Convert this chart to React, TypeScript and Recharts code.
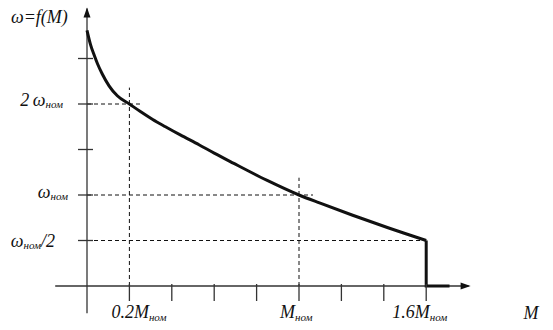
import React from "react";
import { LineChart, Line, XAxis, YAxis, ReferenceLine, ReferenceDot } from "recharts";

// Characteristic ω = f(M): torque M (in units of M_ном), speed ω (in units of ω_ном)
const curveM = [0, 0.017, 0.035, 0.05, 0.072, 0.104, 0.143, 0.2, 0.25, 0.31, 0.37, 0.44, 0.53, 0.6, 0.69, 0.85, 1.0, 1.1, 1.25, 1.42, 1.6];
const curveW = [2.81, 2.65, 2.53, 2.44, 2.33, 2.2, 2.09, 2.0, 1.92, 1.83, 1.75, 1.66, 1.55, 1.46, 1.35, 1.16, 1.0, 0.91, 0.78, 0.64, 0.5];
const dropM = [1.6, 1.6, 1.71];
const dropW = [0.5, 0, 0];

const xTicks = [0.2, 0.4, 0.6, 0.8, 1.0, 1.2, 1.4, 1.6];
const xTickMain = ["0.2M", "", "", "", "M", "", "", "1.6M"];
const xTickSub = ["ном", "", "", "", "ном", "", "", "ном"];

const yTicks = [0.5, 1.0, 1.5, 2.0, 2.5];
const yTickMain = ["ω", "ω", "", "2\u2009ω", ""];
const yTickSub = ["ном", "ном", "", "ном", ""];
const yTickSuffix = ["/2", "", "", "", ""];

// dashed guide lines, start and end points in data units
const guideFrom = [
  [0, 2.0], [0, 1.0], [0, 0.5], [0.2, 0], [1.0, 0],
];
const guideTo = [
  [0.264, 2.0], [1.066, 1.0], [1.6, 0.5], [0.2, 2.18], [1.0, 1.19],
];

const xDomain = [-0.15, 1.8];
const yDomain = [-0.3, 3.05];
const yTitle = "ω=f(M)";
const xTitle = "M";

const curveData = curveM.map((m, i) => ({ m, w: curveW[i] }));
const dropData = dropM.map((m, i) => ({ m, w: dropW[i] }));

const TXT: React.CSSProperties = { fontFamily: "Liberation Serif, serif", fontStyle: "italic" };
const INK = "#111";
const AXIS = "#333";

const xLabelDx = [-18, 0, 0, 0, -19, 0, 0, -34];
const yLabelDx = [-32, -19, 0, -24, 0];
const yLabelDy = [6, 3, 0, 2, 0];

function XTickShape(i: number) {
  return (props: any) => {
    const { cx, cy } = props;
    return (
      <g>
        <line x1={cx} x2={cx} y1={cy - 2} y2={cy + 15} stroke={AXIS} strokeWidth={1.3} />
        {xTickMain[i] ? (
          <text x={cx + xLabelDx[i]} y={cy + 32} style={TXT} fontSize={18} fill={INK}>
            <tspan>{xTickMain[i]}</tspan>
            <tspan fontSize={11} dy={3}>{xTickSub[i]}</tspan>
          </text>
        ) : null}
      </g>
    );
  };
}

function YTickShape(i: number) {
  return (props: any) => {
    const { cx, cy } = props;
    return (
      <g>
        <line x1={cx - 9} x2={cx + 6} y1={cy} y2={cy} stroke={AXIS} strokeWidth={1.3} />
        {yTickMain[i] ? (
          <text x={cx + yLabelDx[i]} y={cy + yLabelDy[i]} textAnchor="end" style={TXT} fontSize={18} fill={INK}>
            <tspan>{yTickMain[i]}</tspan>
            <tspan fontSize={11} dy={2}>{yTickSub[i]}</tspan>
            {yTickSuffix[i] ? <tspan fontSize={18} dy={-2}>{yTickSuffix[i]}</tspan> : null}
          </text>
        ) : null}
      </g>
    );
  };
}

const ArrowUp = (props: any) => {
  const { cx, cy } = props;
  return (
    <g>
      <path d={`M${cx},${cy - 1} L${cx - 3.5},${cy + 9} L${cx + 3.5},${cy + 9} Z`} fill={INK} />
      <text x={cx - 76} y={cy + 15} style={TXT} fontSize={18} fill={INK}>{yTitle}</text>
    </g>
  );
};

const ArrowRight = (props: any) => {
  const { cx, cy } = props;
  return (
    <g>
      <path d={`M${cx + 2},${cy} L${cx - 8},${cy - 3.5} L${cx - 8},${cy + 3.5} Z`} fill={INK} />
      <text x={cx + 55} y={cy + 33} style={TXT} fontSize={18} fill={INK}>{xTitle}</text>
    </g>
  );
};

export default function App() {
  return (
    <div style={{ position: "absolute", left: 0, top: 0, width: 553, height: 330, background: "#fff" }}>
      <LineChart width={553} height={330} margin={{ top: 8.45, right: 84.4, bottom: 16.7, left: 55.2 }}>
        <XAxis type="number" dataKey="m" domain={xDomain} hide allowDataOverflow />
        <YAxis type="number" dataKey="w" domain={yDomain} hide allowDataOverflow />
        {guideFrom.map((f, i) => (
          <ReferenceLine
            key={"g" + i}
            segment={[{ x: f[0], y: f[1] }, { x: guideTo[i][0], y: guideTo[i][1] }]}
            stroke={INK}
            strokeWidth={1}
            strokeDasharray="4 3"
            ifOverflow="visible"
          />
        ))}
        <ReferenceLine segment={[{ x: xDomain[0], y: 0 }, { x: xDomain[1], y: 0 }]} stroke={AXIS} strokeWidth={1.3} ifOverflow="visible" />
        <ReferenceLine segment={[{ x: 0, y: yDomain[0] }, { x: 0, y: yDomain[1] }]} stroke={AXIS} strokeWidth={1.3} ifOverflow="visible" />
        {xTicks.map((t, i) => (
          <ReferenceDot key={"xt" + i} x={t} y={0} r={0} ifOverflow="visible" shape={XTickShape(i)} />
        ))}
        {yTicks.map((t, i) => (
          <ReferenceDot key={"yt" + i} x={0} y={t} r={0} ifOverflow="visible" shape={YTickShape(i)} />
        ))}
        <ReferenceDot x={0} y={yDomain[1]} r={0} ifOverflow="visible" shape={ArrowUp} />
        <ReferenceDot x={xDomain[1]} y={0} r={0} ifOverflow="visible" shape={ArrowRight} />
        <Line data={curveData} dataKey="w" type="monotone" stroke={INK} strokeWidth={3} dot={false} isAnimationActive={false} />
        <Line data={dropData} dataKey="w" type="linear" stroke={INK} strokeWidth={3} dot={false} isAnimationActive={false} />
      </LineChart>
    </div>
  );
}
